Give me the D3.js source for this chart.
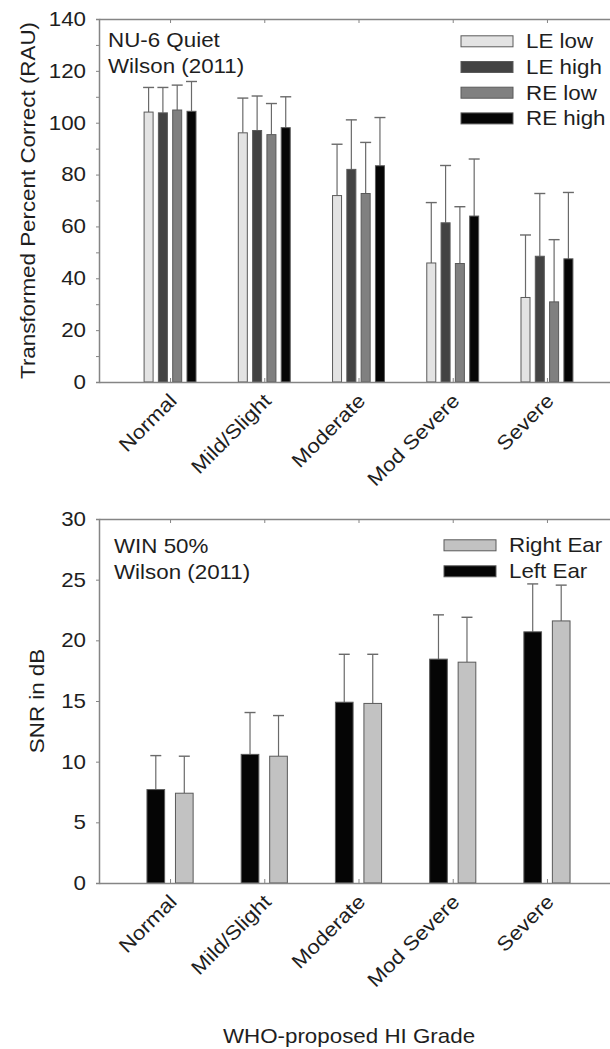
<!DOCTYPE html>
<html>
<head>
<meta charset="utf-8">
<script src="https://cdn.jsdelivr.net/npm/d3@7"></script>
<style>
html,body{margin:0;padding:0;background:#fff;}
svg{display:block;}
text{font-family:"Liberation Sans",Arial,Helvetica,sans-serif;fill:#1e1e1e;}
</style>
</head>
<body>
<svg id="chart" width="610" height="1049"></svg>
<script>
// ---------- data ----------
const categories = ["Normal", "Mild/Slight", "Moderate", "Mod Severe", "Severe"];

// Panel A: NU-6 Quiet, transformed percent correct (RAU)
const nuSeries = ["LE low", "LE high", "RE low", "RE high"];
const leLow   = [104.1, 96.1, 71.9, 45.9, 32.6];
const leLowSD = [9.5, 13.4, 19.8, 23.3, 24.1];
const leHigh   = [103.8, 97.0, 82.0, 61.4, 48.5];
const leHighSD = [9.8, 13.3, 19.1, 22.1, 24.2];
const reLow   = [104.9, 95.4, 72.7, 45.7, 30.9];
const reLowSD = [9.6, 12.0, 19.7, 21.9, 24.0];
const reHigh   = [104.4, 98.1, 83.4, 64.0, 47.5];
const reHighSD = [11.5, 11.9, 18.6, 22.0, 25.6];
const nuTicks = [0, 20, 40, 60, 80, 100, 120, 140];
const nuMinorTicks = [10, 30, 50, 70, 90, 110, 130];

// Panel B: WIN 50% SNR in dB
const winSeries = ["Left Ear", "Right Ear"];
const leftEar   = [7.7, 10.6, 14.9, 18.45, 20.7];
const leftEarSD = [2.8, 3.45, 3.95, 3.65, 3.95];
const rightEar   = [7.4, 10.45, 14.8, 18.2, 21.6];
const rightEarSD = [3.05, 3.35, 4.05, 3.7, 2.95];
const winTicks = [0, 5, 10, 15, 20, 25, 30];

// ---------- styling ----------
const nuFill = {"LE low": "#e3e3e3", "LE high": "#434343", "RE low": "#808080", "RE high": "#050505"};
const winFill = {"Left Ear": "#050505", "Right Ear": "#c2c2c2"};
const FONT = 19.8;
const STRETCH = 1.13;
const AXIS_COL = "#858585";
const ERR_COL = "#6a6a6a";

const svg = d3.select("#chart");

function stretch(sel) {
  sel.each(function () {
    const w = this.getComputedTextLength();
    if (w > 0) {
      this.setAttribute("textLength", (w * STRETCH).toFixed(2));
      this.setAttribute("lengthAdjust", "spacingAndGlyphs");
    }
  });
}

const L = 99, R = 618;
const x = d3.scalePoint().domain(categories).range([L, R]).padding(0.754);

function panel(opts) {
  const g = svg.append("g");
  const y = d3.scaleLinear().domain(opts.domain).range([opts.bottom, opts.top]);

  // bars
  const inner = d3.scaleBand().domain(opts.series).range([-opts.half, opts.half]).paddingInner(opts.pad).paddingOuter(opts.pad / 2);
  opts.series.forEach((s, si) => {
    const vals = opts.values[si], sds = opts.sds[si];
    const rows = categories.map((c, i) => ({c, v: vals[i], sd: sds[i]}));
    // error bars (upper only)
    const eg = g.append("g");
    eg.selectAll("line.v").data(rows).join("line")
      .attr("x1", d => x(d.c) + inner(s) + inner.bandwidth() / 2)
      .attr("x2", d => x(d.c) + inner(s) + inner.bandwidth() / 2)
      .attr("y1", d => y(d.v))
      .attr("y2", d => y(d.v + d.sd))
      .attr("stroke", ERR_COL).attr("stroke-width", 1.2);
    eg.selectAll("line.c").data(rows).join("line")
      .attr("x1", d => x(d.c) + inner(s) + inner.bandwidth() / 2 - opts.cap / 2)
      .attr("x2", d => x(d.c) + inner(s) + inner.bandwidth() / 2 + opts.cap / 2)
      .attr("y1", d => y(d.v + d.sd))
      .attr("y2", d => y(d.v + d.sd))
      .attr("stroke", ERR_COL).attr("stroke-width", 1.4);
    g.append("g").selectAll("rect").data(rows).join("rect")
      .attr("x", d => x(d.c) + inner(s))
      .attr("width", inner.bandwidth())
      .attr("y", d => y(d.v))
      .attr("height", d => y(0) - y(d.v))
      .attr("fill", opts.fill[s])
      .attr("stroke", "#5a5a5a").attr("stroke-width", 1);
  });

  // left axis
  const ya = g.append("g").attr("transform", `translate(${L},0)`)
    .call(d3.axisLeft(y).tickValues(opts.ticks).tickSize(3).tickPadding(10).tickFormat(d3.format("d")));
  ya.select(".domain").attr("stroke", AXIS_COL).attr("stroke-width", 1.5);
  ya.selectAll(".tick line").attr("stroke", AXIS_COL);
  ya.selectAll(".tick text").attr("font-size", FONT).attr("fill", "#1e1e1e").call(stretch);
  if (opts.minor) {
    const ym = g.append("g").attr("transform", `translate(${L},0)`)
      .call(d3.axisLeft(y).tickValues(opts.minor).tickSize(3).tickFormat(""));
    ym.select(".domain").remove();
    ym.selectAll(".tick line").attr("stroke", AXIS_COL);
  }

  // bottom axis (ticks pointing in)
  const xa = g.append("g").attr("transform", `translate(0,${opts.bottom})`)
    .call(d3.axisBottom(x).tickSize(-4).tickSizeOuter(0).tickFormat(""));
  xa.select(".domain").attr("stroke", AXIS_COL).attr("stroke-width", 1.5);
  xa.selectAll(".tick line").attr("stroke", AXIS_COL);
  // top border
  const ta = g.append("g").attr("transform", `translate(0,${opts.top})`)
    .call(d3.axisTop(x).tickSize(-4).tickSizeOuter(0).tickFormat(""));
  ta.select(".domain").attr("stroke", AXIS_COL).attr("stroke-width", 1.5);
  ta.selectAll(".tick line").attr("stroke", AXIS_COL);

  // rotated category labels
  g.append("g").selectAll("text").data(categories).join("text")
    .attr("transform", d => `translate(${x(d) + 8},${opts.bottom + 20}) rotate(-45)`)
    .attr("text-anchor", "end")
    .attr("font-size", FONT)
    .text(d => d)
    .call(stretch);

  // y title
  g.append("text")
    .attr("transform", `translate(${opts.titleX},${(opts.top + opts.bottom) / 2}) rotate(-90)`)
    .attr("text-anchor", "middle")
    .attr("font-size", FONT)
    .text(opts.yTitle)
    .call(stretch);

  // annotation
  opts.note.forEach((t, i) => {
    g.append("text").attr("x", opts.noteX).attr("y", opts.noteY + i * 25.5)
      .attr("font-size", FONT).text(t).call(stretch);
  });

  // legend
  opts.legendOrder.forEach((s, i) => {
    const cy = opts.legY + i * opts.legStep;
    g.append("rect").attr("x", opts.legX).attr("y", cy - 5.5).attr("width", 52).attr("height", 11)
      .attr("fill", opts.fill[s]).attr("stroke", "#5a5a5a").attr("stroke-width", 1);
    g.append("text").attr("x", opts.legX + 65).attr("y", cy + 7)
      .attr("font-size", FONT).text(s).call(stretch);
  });
}

panel({
  domain: [0, 140], top: 19, bottom: 382,
  series: nuSeries, values: [leLow, leHigh, reLow, reHigh], sds: [leLowSD, leHighSD, reLowSD, reHighSD],
  fill: nuFill, half: 28.6, pad: 0.37, cap: 11,
  ticks: nuTicks, minor: nuMinorTicks,
  yTitle: "Transformed Percent Correct (RAU)", titleX: 35,
  note: ["NU-6 Quiet", "Wilson (2011)"], noteX: 108, noteY: 47,
  legendOrder: nuSeries, legX: 461, legY: 41.3, legStep: 25.7
});

panel({
  domain: [0, 30], top: 519, bottom: 883,
  series: winSeries, values: [leftEar, rightEar], sds: [leftEarSD, rightEarSD],
  fill: winFill, half: 28.5, pad: 0.38, cap: 11,
  ticks: winTicks, minor: null,
  yTitle: "SNR in dB", titleX: 44,
  note: ["WIN 50%", "Wilson (2011)"], noteX: 114, noteY: 553,
  legendOrder: ["Right Ear", "Left Ear"], legX: 444, legY: 545.3, legStep: 26
});

svg.append("text")
  .attr("x", 349).attr("y", 1043)
  .attr("text-anchor", "middle")
  .attr("font-size", FONT)
  .text("WHO-proposed HI Grade")
  .call(stretch);
</script>
</body>
</html>
